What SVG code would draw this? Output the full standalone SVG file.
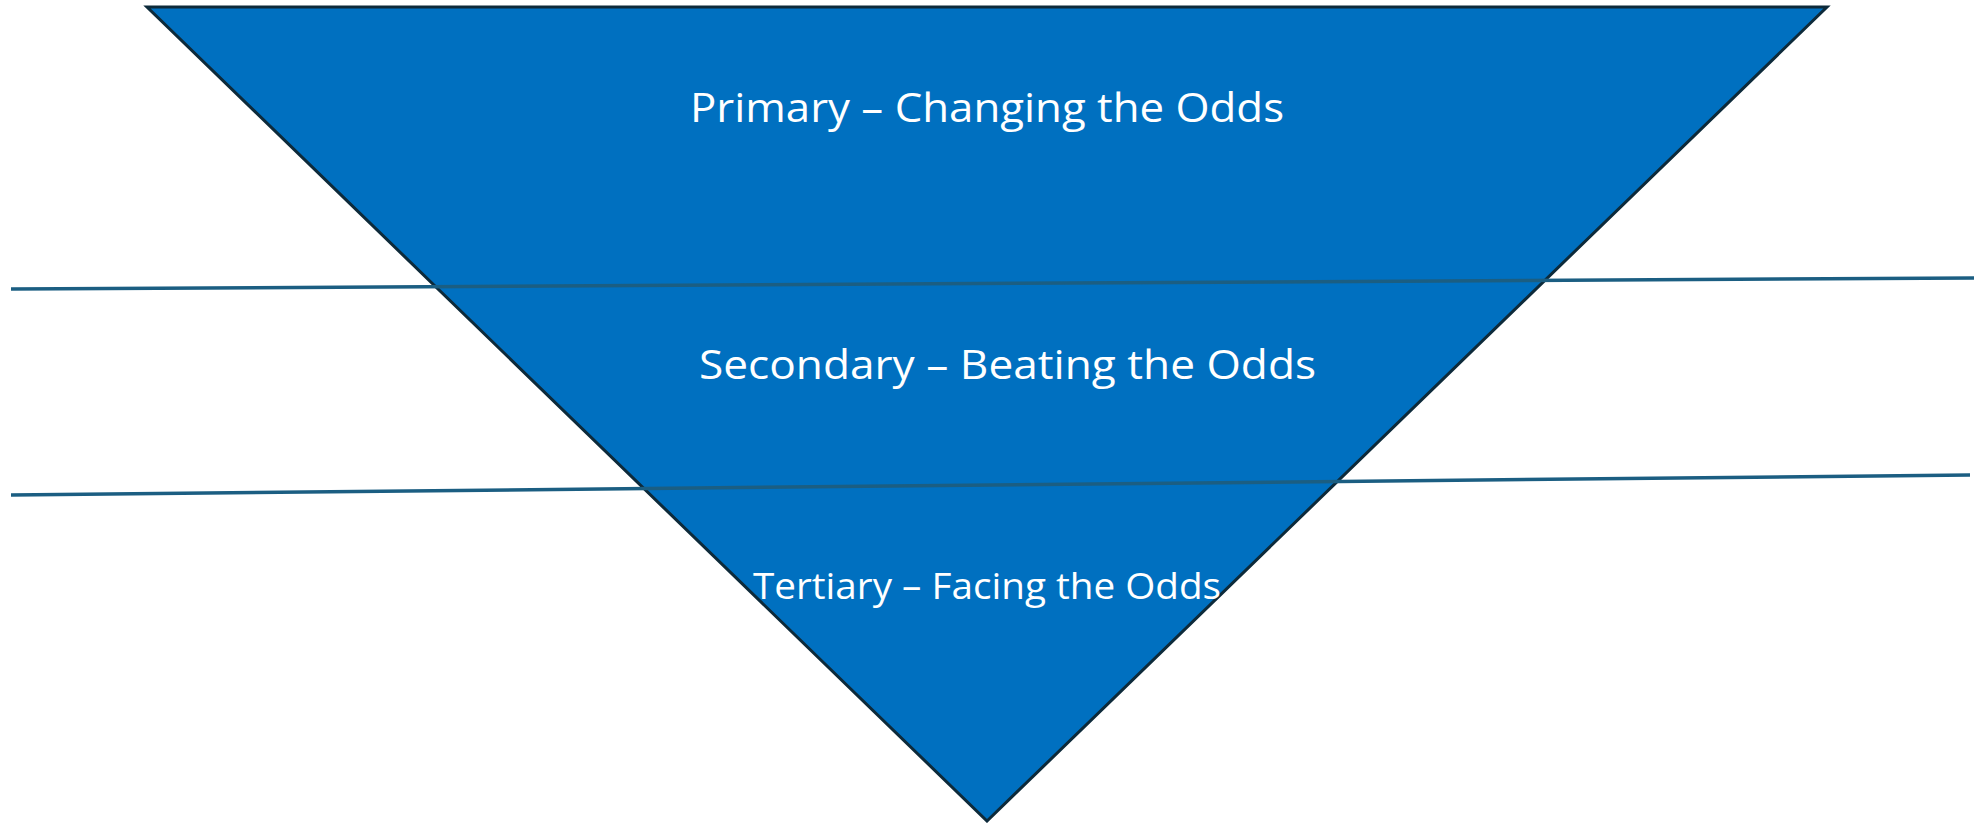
<svg xmlns="http://www.w3.org/2000/svg" width="1974" height="823" viewBox="0 0 1974 823">
  <style>
    .tri { fill: #0070C0; stroke: #0D2A3A; stroke-width: 3; stroke-linejoin: miter; }
    .lbl { fill: #FFFFFF; font-family: "Open Sans", "Liberation Sans", sans-serif; }
    .div { stroke: #1B5E82; stroke-width: 3.5; fill: none; }
  </style>
  <rect width="1974" height="823" fill="#FFFFFF"/>
  <g id="pyramid">
    <polygon class="tri" points="147,7 1827,7 987,821"/>
  </g>
  <g id="connectors">
    <line class="div" x1="11" y1="289" x2="1974" y2="278"/>
    <line class="div" x1="11" y1="495" x2="1970" y2="475"/>
  </g>
  <g id="primary">
    <text class="lbl" x="690" y="122" font-size="41" textLength="594" lengthAdjust="spacingAndGlyphs">Primary – Changing the Odds</text>
  </g>
  <g id="secondary">
    <text class="lbl" x="699" y="379" font-size="41" textLength="617" lengthAdjust="spacingAndGlyphs">Secondary – Beating the Odds</text>
  </g>
  <g id="tertiary">
    <text class="lbl" x="753" y="599" font-size="36" textLength="468" lengthAdjust="spacingAndGlyphs">Tertiary – Facing the Odds</text>
  </g>
</svg>
